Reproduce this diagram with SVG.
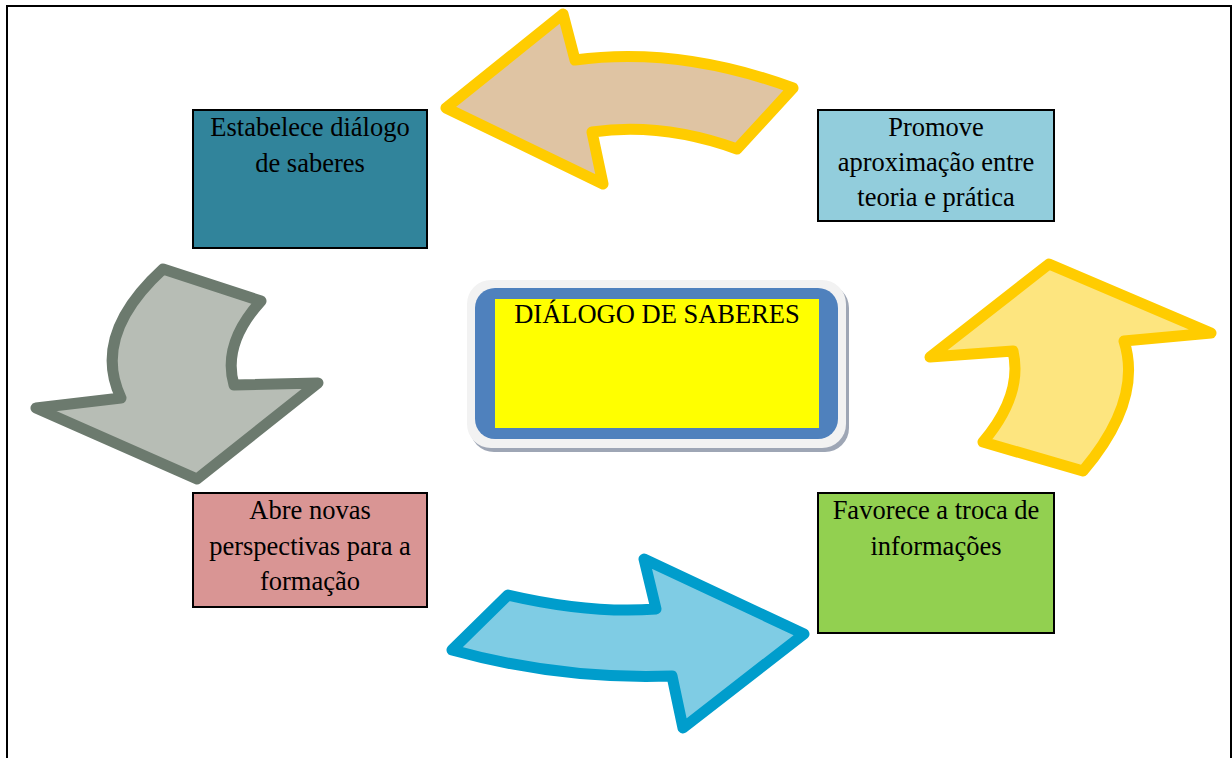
<svg xmlns="http://www.w3.org/2000/svg" width="1232" height="758" viewBox="0 0 1232 758">
<style>
.box{stroke:#000;stroke-width:2}
.t{font-family:"Liberation Serif","Times New Roman",serif;font-size:26.5px;fill:#000;text-anchor:middle}
.arr{stroke-width:11;stroke-linejoin:round}
</style>
<rect width="1232" height="758" fill="#fff"/>
<path d="M7,758 V6 H1231 V758" fill="none" stroke="#000" stroke-width="2"/>
<g id="center">
<rect x="470" y="284" width="379" height="168" rx="24" fill="#9ea6b5"/>
<rect x="467" y="280" width="379" height="168" rx="24" fill="#f2f2f2"/>
<rect x="475" y="288" width="363" height="151" rx="20" fill="#4f81bd"/>
<rect x="495" y="299" width="324" height="129" fill="#ffff00"/>
<text class="t" x="657" y="323">DIÁLOGO DE SABERES</text>
</g>
<g id="n1">
<rect class="box" x="193" y="110" width="234" height="138" fill="#31849b"/>
<text class="t" x="310" y="136">Estabelece diálogo</text>
<text class="t" x="310" y="172">de saberes</text>
</g>
<g id="n2">
<rect class="box" x="818" y="110" width="236" height="111" fill="#92cddc"/>
<text class="t" x="936" y="136">Promove</text>
<text class="t" x="936" y="171">aproximação entre</text>
<text class="t" x="936" y="206">teoria e prática</text>
</g>
<g id="n3">
<rect class="box" x="818" y="493" width="236" height="140" fill="#92d050"/>
<text class="t" x="936" y="519">Favorece a troca de</text>
<text class="t" x="936" y="555">informações</text>
</g>
<g id="n4">
<rect class="box" x="193" y="493" width="234" height="114" fill="#d99594"/>
<text class="t" x="310" y="519">Abre novas</text>
<text class="t" x="310" y="555">perspectivas para a</text>
<text class="t" x="310" y="590">formação</text>
</g>
<g id="connectors">
<path class="arr" fill="#dfc4a3" stroke="#ffcc00" d="M446,108 L563,14 L575,60 Q679,46 793,88 L737,149 Q662,122 592,132 L603,184 Z"/>
<path class="arr" fill="#fde57f" stroke="#ffcc00" d="M930,357 L1049,264 L1211,333 L1124,341 Q1143,400 1083,471 L983,442 Q1023,395 1013,351 Z"/>
<path class="arr" fill="#7fcce4" stroke="#009dcc" d="M508,595 Q590,614 656,609 L644,559 L804,634 L683,728 L672,676 Q560,680 452,650 Z"/>
<path class="arr" fill="#b7bdb5" stroke="#6c7a6e" d="M163,269 L261,301 Q222,344 234,385 L318,383 L197,479 L36,408 L121,398 Q91,335 163,269 Z"/>
</g>
</svg>
